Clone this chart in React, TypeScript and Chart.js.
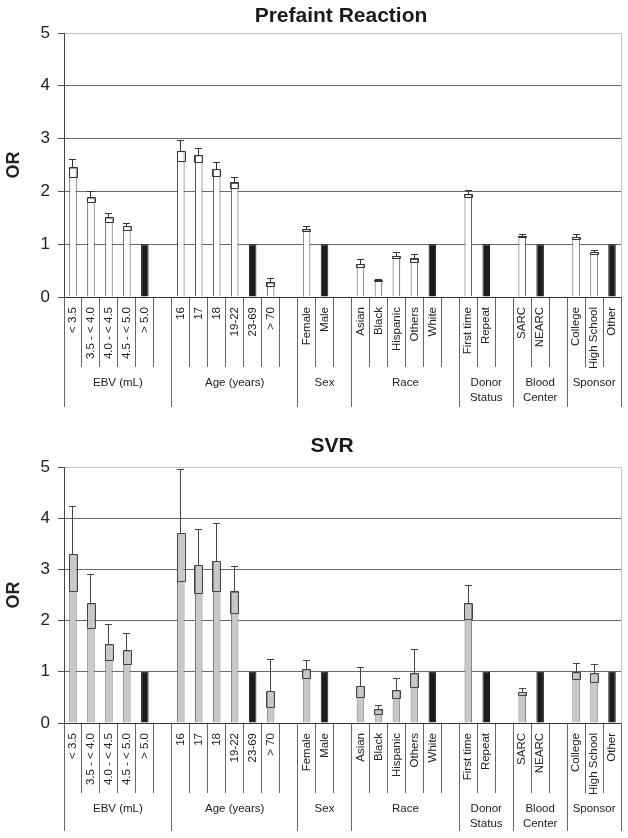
import React, { useEffect, useRef } from "react";
import { Chart, registerables } from "chart.js";

Chart.register(...registerables);

// ---------- data ----------
const categories = [
  "< 3.5", "3.5 - < 4.0", "4.0 - < 4.5", "4.5 - < 5.0", "> 5.0", "",
  "16", "17", "18", "19-22", "23-69", "> 70", "",
  "Female", "Male", "",
  "Asian", "Black", "Hispanic", "Others", "White", "",
  "First time", "Repeat", "",
  "SARC", "NEARC", "",
  "College", "High School", "Other",
];
const referenceCategories = ["> 5.0", "23-69", "Male", "White", "Repeat", "NEARC", "Other"];
const groupLabels = [["EBV (mL)"], ["Age (years)"], ["Sex"], ["Race"], ["Donor", "Status"], ["Blood", "Center"], ["Sponsor"]];
const groupSizes = [6, 7, 3, 6, 3, 3, 3];
const yTicks = [0, 1, 2, 3, 4, 5];

const prefaintOR = [2.45, 1.88, 1.5, 1.34, 1, null, 2.76, 2.68, 2.42, 2.16, 1, 0.27, null, 1.28, 1, null, 0.62, 0.31, 0.77, 0.72, 1, null, 1.94, 1, null, 1.15, 1, null, 1.13, 0.85, 1];
const prefaintLow = [2.26, 1.79, 1.41, 1.26, null, null, 2.57, 2.54, 2.28, 2.05, null, 0.2, null, 1.24, null, null, 0.55, 0.3, 0.72, 0.65, null, null, 1.88, null, null, 1.12, null, null, 1.09, 0.81, null];
const prefaintHigh = [2.6, 1.99, 1.58, 1.4, null, null, 2.96, 2.82, 2.54, 2.26, null, 0.35, null, 1.33, null, null, 0.71, 0.33, 0.85, 0.81, null, null, 2.01, null, null, 1.18, null, null, 1.18, 0.89, null];

const svrOR = [3.29, 2.33, 1.53, 1.41, 1, null, 3.71, 3.08, 3.16, 2.56, 1, 0.62, null, 1.04, 1, null, 0.72, 0.26, 0.63, 0.96, 1, null, 2.33, 1, null, 0.6, 1, null, 0.98, 0.96, 1];
const svrLow = [2.57, 1.85, 1.22, 1.15, null, null, 2.76, 2.52, 2.57, 2.13, null, 0.31, null, 0.87, null, null, 0.49, 0.17, 0.47, 0.69, null, null, 2.03, null, null, 0.53, null, null, 0.85, 0.8, null];
const svrHigh = [4.22, 2.9, 1.92, 1.75, null, null, 4.95, 3.77, 3.89, 3.05, null, 1.24, null, 1.22, null, null, 1.08, 0.35, 0.87, 1.44, null, null, 2.68, null, null, 0.67, null, null, 1.16, 1.15, null];

const FONT = '"Liberation Sans", Arial, Helvetica, sans-serif';

const align = (p: number) => Math.round(p - 0.5) + 0.5;

const errorBarPlugin = {
  id: "errorBars",
  afterDatasetsDraw(chart: any, _args: any, opts: any) {
    const { ctx } = chart;
    const meta = chart.getDatasetMeta(0);
    const y = chart.scales.y;
    const low: (number | null)[] = opts.low;
    const high: (number | null)[] = opts.high;
    const values: (number | null)[] = chart.data.datasets[0].data;
    ctx.save();
    ctx.strokeStyle = opts.color;
    ctx.lineWidth = 1;
    meta.data.forEach((bar: any, i: number) => {
      const v = values[i];
      const lo = low[i];
      const hi = high[i];
      if (v == null || lo == null || hi == null) return;
      const cx = align(bar.x);
      const hw = bar.width / 2;
      const yv = y.getPixelForValue(v);
      const yl = align(y.getPixelForValue(lo));
      const yh = align(y.getPixelForValue(hi));
      ctx.beginPath();
      ctx.moveTo(cx, yh);
      ctx.lineTo(cx, yv);
      ctx.moveTo(cx - 3.5, yh);
      ctx.lineTo(cx + 3.5, yh);
      ctx.stroke();
      // lower part of the interval, inside the bar
      ctx.beginPath();
      ctx.rect(align(bar.x - hw), align(yv), Math.round(hw * 2), yl - align(yv));
      ctx.stroke();
    });
    ctx.restore();
  },
};

const decorPlugin = {
  id: "panelDecor",
  afterDraw(chart: any, _args: any, opts: any) {
    const { ctx, chartArea } = chart;
    const x = chart.scales.x;
    const n = categories.length;
    const w = x.width / n;
    ctx.save();
    ctx.lineWidth = 1;
    // right border
    ctx.strokeStyle = "#c4c4c4";
    ctx.beginPath();
    ctx.moveTo(align(chartArea.right), chartArea.top);
    ctx.lineTo(align(chartArea.right), chartArea.bottom);
    ctx.stroke();
    // group separators
    const bounds = [0];
    let k = 0;
    groupSizes.forEach((s) => {
      k += s;
      bounds.push(k);
    });
    ctx.strokeStyle = "#666";
    ctx.beginPath();
    bounds.forEach((b) => {
      const px = align(x.left + b * w);
      ctx.moveTo(px, chartArea.bottom);
      ctx.lineTo(px, chartArea.bottom + opts.groupDepth);
    });
    ctx.stroke();
    // group labels
    ctx.fillStyle = "#222";
    ctx.font = `11.5px ${FONT}`;
    ctx.textAlign = "center";
    ctx.textBaseline = "middle";
    groupLabels.forEach((lines, gi) => {
      const cx = x.left + ((bounds[gi] + bounds[gi + 1]) / 2) * w;
      lines.forEach((t, li) => {
        ctx.fillText(t, cx, chartArea.bottom + opts.groupLabelOffset + li * 14.5);
      });
    });
    // title
    ctx.font = `bold 21px ${FONT}`;
    ctx.fillStyle = "#1a1a1a";
    ctx.textBaseline = "alphabetic";
    ctx.fillText(opts.title, opts.titleX, opts.titleBaseline);
    ctx.restore();
  },
};

type PanelProps = {
  title: string;
  titleX: number;
  titleBaseline: number;
  values: (number | null)[];
  low: (number | null)[];
  high: (number | null)[];
  fill: string;
  border: string;
  errColor: string;
  top: number;
  height: number;
  padTop: number;
  xHeight: number;
  tickLen: number;
  groupDepth: number;
};

function Panel(p: PanelProps) {
  const ref = useRef<HTMLCanvasElement>(null);
  useEffect(() => {
    if (!ref.current) return;
    const isRef = categories.map((c) => referenceCategories.includes(c));
    const chart = new Chart(ref.current, {
      type: "bar",
      data: {
        labels: categories,
        datasets: [
          {
            data: p.values as any,
            backgroundColor: isRef.map((r) => (r ? "#1c1c1c" : p.fill)),
            borderColor: isRef.map((r) => (r ? "#1c1c1c" : p.border)),
            borderWidth: 1,
            barPercentage: 0.42,
            categoryPercentage: 1,
          },
        ],
      },
      options: {
        responsive: false,
        animation: false,
        events: [],
        layout: { padding: { top: p.padTop, right: 7, left: 0, bottom: 0 } },
        plugins: {
          legend: { display: false },
          tooltip: { enabled: false },
          title: { display: false },
          errorBars: { low: p.low, high: p.high, color: p.errColor },
          panelDecor: {
            title: p.title,
            titleX: p.titleX,
            titleBaseline: p.titleBaseline,
            groupDepth: p.groupDepth,
            groupLabelOffset: 86,
          },
        } as any,
        scales: {
          x: {
            grid: {
              display: true,
              drawOnChartArea: false,
              drawTicks: true,
              tickLength: p.tickLen,
              color: "#666",
              offset: true,
            },
            border: { color: "#333", width: 1 },
            ticks: {
              autoSkip: false,
              maxRotation: 90,
              minRotation: 90,
              padding: -(p.tickLen - 10),
              color: "#222",
              font: { family: FONT, size: 11.5 },
            },
            afterFit: (s: any) => {
              s.height = p.xHeight;
            },
          },
          y: {
            min: yTicks[0],
            max: yTicks[yTicks.length - 1],
            ticks: {
              stepSize: 1,
              padding: 8,
              color: "#222",
              font: { family: FONT, size: 17 },
            },
            grid: {
              color: (c: any) => (c.tick && c.tick.value === 5 ? "#c4c4c4" : "#6a6a6a"),
              tickColor: "#555",
              tickLength: 6,
              drawTicks: true,
            },
            border: { color: "#444", width: 1 },
            title: {
              display: true,
              text: "OR",
              color: "#222",
              padding: { top: 3, bottom: 0 },
              font: { family: FONT, size: 18, weight: "bold" },
            },
            afterFit: (s: any) => {
              s.width = 64;
            },
          },
        },
      },
      plugins: [errorBarPlugin, decorPlugin],
    });
    return () => chart.destroy();
  }, []);
  return (
    <canvas
      ref={ref}
      width={628}
      height={p.height}
      style={{ position: "absolute", left: 0, top: p.top, width: 628, height: p.height }}
    />
  );
}

export default function App() {
  return (
    <div>
      <Panel
        title="Prefaint Reaction"
        titleX={341}
        titleBaseline={22}
        values={prefaintOR}
        low={prefaintLow}
        high={prefaintHigh}
        fill="#ffffff"
        border="#555555"
        errColor="#333333"
        top={0}
        height={415}
        padTop={33}
        xHeight={118}
        tickLen={70}
        groupDepth={110}
      />
      <Panel
        title="SVR"
        titleX={332}
        titleBaseline={37}
        values={svrOR}
        low={svrLow}
        high={svrHigh}
        fill="#c8c8c8"
        border="#7a7a7a"
        errColor="#444444"
        top={415}
        height={423}
        padTop={52}
        xHeight={115}
        tickLen={70}
        groupDepth={108}
      />
    </div>
  );
}
